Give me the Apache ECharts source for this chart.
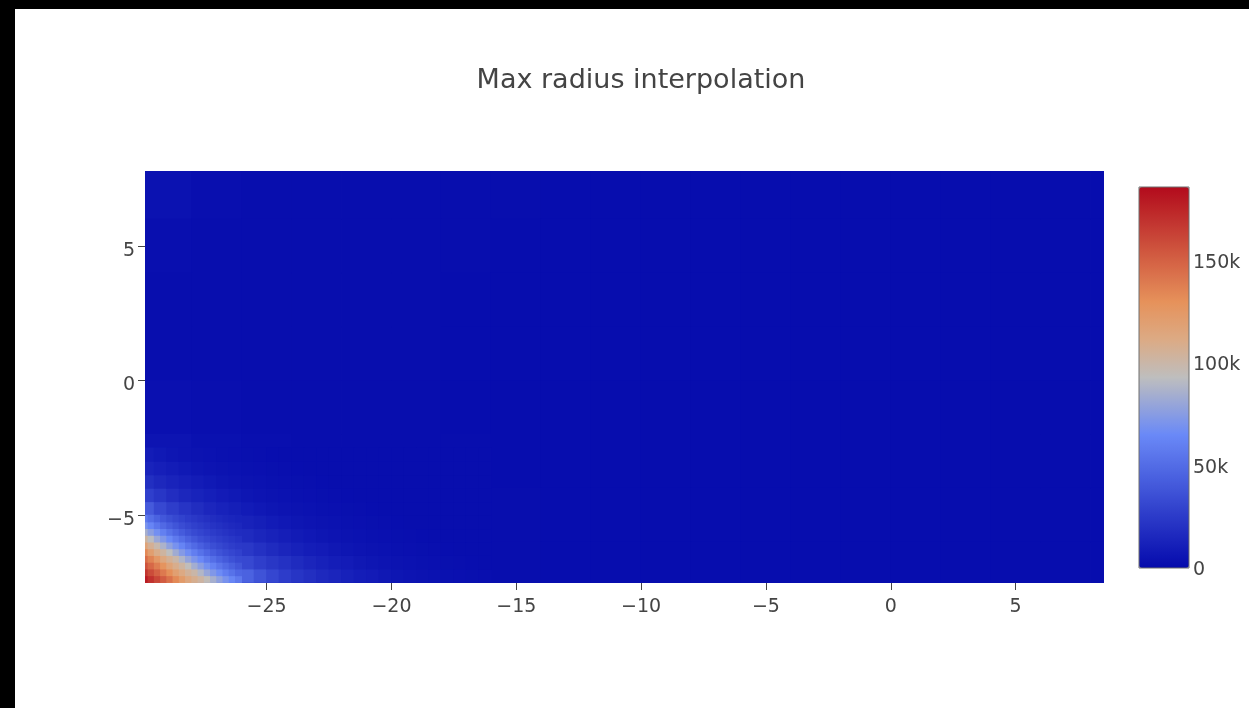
<!DOCTYPE html>
<html>
<head>
<meta charset="utf-8">
<script src="https://cdn.jsdelivr.net/npm/echarts@6/dist/echarts.min.js"></script>
<style>
    html, body {
        margin: 0;
        padding: 0;
        width: 1249px;
        height: 708px;
        background: #000;
        overflow: hidden;
    }
    #chart {
        position: absolute;
        left: 15px;
        top: 9px;
        width: 1234px;
        height: 699px;
        background: #fff;
    }
</style>
</head>
<body>
<div id="chart"></div>
<script>
// tick labels
const xTicks = [-25, -20, -15, -10, -5, 0, 5]
const yTicks = [-5, 0, 5]
const colorTicks = [0, 50000, 100000, 150000]

// coarse cells (2 x 2 units), values in thousands, rows from top (y=7) to bottom (y=-7)
const coarseXs = [-29, -27, -25, -23, -21, -19, -17, -15, -13, -11, -9, -7, -5, -3, -1, 1, 3, 5, 7, 9]
const coarseYs = [7, 5, 3, 1, -1, -3, -5, -7]
const coarseRows = [
    [4, 2.5, 2, 2, 2, 2, 2, 2, 1.5, 1.5, 1.5, 1.5, 1.5, 1.5, 1.5, 1.5, 1.5, 1.5, 1.5, 1.5],
    [2.5, 2, 2, 2, 2, 2, 2, 1.5, 1.5, 1.5, 1.5, 1.5, 1.5, 1.5, 1.5, 1.5, 1.5, 1.5, 1.5, 1.5],
    [2, 2, 2, 2, 2, 2, 1.5, 1.5, 1.5, 1.5, 1.5, 1.5, 1.5, 1.5, 1.5, 1.5, 1.5, 1.5, 1.5, 1.5],
    [2, 2, 2, 2, 2, 2, 1.5, 1.5, 1.5, 1.5, 1.5, 1.5, 1.5, 1.5, 1.5, 1.5, 1.5, 1.5, 1.5, 1.5],
    [3, 2.5, 2, 2, 2, 2, 1.5, 1.5, 1.5, 1.5, 1.5, 1.5, 1.5, 1.5, 1.5, 1.5, 1.5, 1.5, 1.5, 1.5],
    [5, 3.5, 2.5, 2, 2, 2, 2, 1.5, 1.5, 1.5, 1.5, 1.5, 1.5, 1.5, 1.5, 1.5, 1.5, 1.5, 1.5, 1.5],
    [12, 8, 6, 4, 3, 2.5, 2, 2, 1.5, 1.5, 1.5, 1.5, 1.5, 1.5, 1.5, 1.5, 1.5, 1.5, 1.5, 1.5],
    [100, 40, 15, 8, 5, 3, 2, 2, 1.5, 1.5, 1.5, 1.5, 1.5, 1.5, 1.5, 1.5, 1.5, 1.5, 1.5, 1.5],
]

// medium cells (0.5 x 0.5 units) in the lower left corner, rows from bottom up
const midXs = [-29.75, -29.25, -28.75, -28.25, -27.75, -27.25, -26.75, -26.25, -25.75, -25.25,
    -24.75, -24.25, -23.75, -23.25, -22.75, -22.25, -21.75, -21.25, -20.75, -20.25,
    -19.75, -19.25, -18.75, -18.25, -17.75, -17.25, -16.75, -16.25]
const midYs = [-7.25, -6.75, -6.25, -5.75, -5.25, -4.75, -4.25, -3.75, -3.25, -2.75]
const midRows = [
    [171, 153, 134, 115, 102, 85, 70, 56, 45, 37, 31, 26, 22, 19, 16, 14, 12, 10, 9, 7, 6, 5, 4.4, 4, 3.6, 3.2, 2.9, 2.5],
    [148, 129, 109, 94, 75, 61, 49, 39, 32, 27, 23, 20, 17, 14, 12, 10, 9, 7, 6, 5, 4.4, 4, 3.6, 3.2, 2.9, 2.5, 2.2, 2],
    [122, 103, 82, 67, 53, 42, 33.5, 28, 24, 20, 17, 14, 12, 10, 9, 7, 6, 5, 4.4, 4, 3.6, 3.2, 2.9, 2.5, 2.2, 2, 2, 2],
    [92, 72, 57, 45, 35, 29, 24.5, 20.5, 17, 14.4, 12.3, 10.4, 8.8, 7.3, 6, 5, 4.4, 4, 3.6, 3.2, 2.9, 2.5, 2.2, 2, 2, 2, 2, 2],
    [62.5, 48, 37.6, 30.6, 25.4, 21, 17.5, 14.6, 12.4, 10.6, 8.9, 7.4, 6, 5, 4.4, 4, 3.6, 3.2, 2.9, 2.5, 2.2, 2, 2, 2, 2, 2, 2, 2],
    [41, 32, 26.3, 21.7, 17.9, 14.7, 12.6, 10.6, 8.9, 7.4, 6.1, 5, 4.4, 4, 3.6, 3.2, 2.9, 2.5, 2.2, 2, 2, 2, 2, 2, 2, 2, 2, 2],
    [27.5, 22.5, 18.3, 15, 12.7, 10.7, 9, 7.5, 6.1, 5, 4.4, 4, 3.6, 3.2, 2.9, 2.5, 2.2, 2, 2, 2, 2, 2, 2, 2, 2, 2, 2, 2],
    [18.9, 15.3, 12.9, 10.9, 9.1, 7.5, 6.1, 5, 4.4, 4, 3.6, 3.2, 2.9, 2.5, 2.2, 2, 2, 2, 2, 2, 2, 2, 2, 2, 2, 2, 2, 2],
    [13, 11, 9.1, 7.5, 6.1, 5, 4.4, 4, 3.6, 3.2, 2.9, 2.5, 2.2, 2, 2, 2, 2, 2, 2, 2, 2, 2, 2, 2, 2, 2, 2, 2],
    [9.2, 7.6, 6.1, 5, 4.4, 4, 3.6, 3.2, 2.9, 2.5, 2.2, 2, 2, 2, 2, 2, 2, 2, 2, 2, 2, 2, 2, 2, 2, 2, 2, 2],
]

// fine cells (0.25 x 0.25 units) at the hot corner, rows from bottom up
const fineXs = [-29.875, -29.625, -29.375, -29.125, -28.875, -28.625, -28.375, -28.125,
    -27.875, -27.625, -27.375, -27.125, -26.875, -26.625, -26.375, -26.125]
const fineYs = [-7.375, -7.125, -6.875, -6.625, -6.375, -6.125, -5.875, -5.625, -5.375, -5.125]
const fineRows = [
    [179, 170, 161, 152, 143, 133, 123, 114, 108, 102, 95, 85, 77, 70, 63.5, 57],
    [168, 159, 150, 140, 131, 120, 112, 105, 100, 89, 80, 72.5, 66, 59, 53, 47],
    [156, 147, 138, 128, 117, 109, 102.5, 94, 84, 76, 68.5, 61.6, 55, 49, 44, 39],
    [145, 136, 125, 114, 106, 100, 88, 79, 71, 64.8, 57, 51, 45.5, 40.6, 36, 33],
    [133.4, 121, 110, 102.5, 93, 83, 74, 67, 59.6, 53, 47, 42, 37.4, 33.7, 31, 28.4],
    [116.7, 106.6, 98.5, 87, 77.5, 69.6, 62.4, 55, 49, 43.6, 38.8, 34.6, 31.6, 29, 26.5, 24.3],
    [102.5, 92, 81, 72.5, 65, 57.6, 51, 45, 40, 35.2, 32.3, 29.5, 27, 24.7, 22.6, 20.8],
    [85.5, 76, 68, 60.3, 53, 47, 41.5, 36.7, 33, 30.2, 27.6, 25.2, 23, 21, 19.2, 17.5],
    [70.7, 63, 55.4, 48.8, 43, 38, 33.9, 30.8, 28, 25.6, 23.4, 21.3, 19.5, 17.7, 16.2, 14.8],
    [57.8, 50.9, 44.8, 39.4, 35, 31.6, 28.7, 26, 23.8, 21.7, 19.7, 18, 16.3, 14.9, 13.7, 12.7],
]

const zMax = 186000

// plotly RdBu stops, blue at the low end
const rdbuStops = [
    [0, [5, 10, 172]],
    [0.35, [106, 137, 247]],
    [0.5, [190, 190, 190]],
    [0.6, [220, 170, 132]],
    [0.7, [230, 145, 90]],
    [1, [178, 10, 28]],
]

const sampleScale = (n) => {
    const colors = []
    for (let i = 0; i < n; i++) {
        const t = i / (n - 1)
        let k = 0
        while (k < rdbuStops.length - 2 && t > rdbuStops[k + 1][0]) k++
        const [t0, c0] = rdbuStops[k]
        const [t1, c1] = rdbuStops[k + 1]
        const f = (t - t0) / (t1 - t0)
        const c = c0.map((v, j) => Math.round(v + (c1[j] - v) * f))
        colors.push(`rgb(${c[0]},${c[1]},${c[2]})`)
    }
    return colors
}

const toCells = (xs, ys, rows) => {
    const out = []
    rows.forEach((row, i) => row.forEach((v, j) => out.push([xs[j], ys[i], v * 1000])))
    return out
}

const cellRenderer = (half) => (params, api) => {
    const x = api.value(0)
    const y = api.value(1)
    const p0 = api.coord([x - half, y + half])
    const p1 = api.coord([x + half, y - half])
    return {
        type: 'rect',
        shape: {
            x: p0[0] - 0.4,
            y: p0[1] - 0.4,
            width: p1[0] - p0[0] + 0.8,
            height: p1[1] - p0[1] + 0.8,
        },
        style: { fill: api.visual('color') },
    }
}

const cellSeries = (half, z, data) => ({
    type: 'custom',
    xAxisIndex: 0,
    yAxisIndex: 0,
    clip: true,
    z,
    dimensions: ['x', 'y', 'v'],
    encode: { x: 0, y: 1 },
    renderItem: cellRenderer(half),
    data,
})

const minus = (v) => String(v).replace('-', '\u2212')
const textColor = '#444'
const fontFamily = '"DejaVu Sans", Verdana, sans-serif'

const chart = echarts.init(document.getElementById('chart'))

chart.setOption({
    animation: false,
    title: {
        text: 'Max radius interpolation',
        left: 626,
        top: 58,
        padding: 0,
        textAlign: 'center',
        textStyle: {
            color: textColor,
            fontFamily,
            fontWeight: 'normal',
            fontSize: 27,
        },
    },
    grid: [
        { left: 130, top: 162, width: 959, height: 412 },
        {
            left: 1124,
            top: 178,
            width: 50,
            height: 381,
            show: true,
            z: 10,
            borderColor: '#6f6f6f',
            borderWidth: 1,
            backgroundColor: 'transparent',
        },
    ],
    xAxis: [
        {
            type: 'value',
            gridIndex: 0,
            min: -29.87,
            max: 8.54,
            axisLine: { show: true, onZero: false, lineStyle: { color: 'rgba(0,0,0,0)' } },
            splitLine: { show: false },
            axisTick: {
                show: true,
                customValues: xTicks,
                length: 7,
                lineStyle: { color: textColor },
            },
            axisLabel: {
                customValues: xTicks,
                margin: 15,
                color: textColor,
                fontFamily,
                fontSize: 19,
                formatter: minus,
            },
        },
        { type: 'value', gridIndex: 1, show: false, min: 0, max: 1 },
    ],
    yAxis: [
        {
            type: 'value',
            gridIndex: 0,
            min: -7.52,
            max: 7.79,
            axisLine: { show: true, onZero: false, lineStyle: { color: 'rgba(0,0,0,0)' } },
            splitLine: { show: false },
            axisTick: {
                show: true,
                customValues: yTicks,
                length: 7,
                lineStyle: { color: textColor },
            },
            axisLabel: {
                customValues: yTicks,
                margin: 10,
                formatter: (v) => `{t|${minus(v)}}`,
                rich: {
                    t: {
                        color: textColor,
                        fontFamily,
                        fontSize: 19,
                        padding: [9, 0, 0, 0],
                    },
                },
            },
        },
        {
            type: 'value',
            gridIndex: 1,
            position: 'right',
            min: 0,
            max: zMax,
            axisLine: { show: false },
            axisTick: { show: false },
            splitLine: { show: false },
            axisLabel: {
                customValues: colorTicks,
                margin: 4,
                formatter: (v) => `{t|${v === 0 ? '0' : v / 1000 + 'k'}}`,
                rich: {
                    t: {
                        color: textColor,
                        fontFamily,
                        fontSize: 19,
                        padding: [4, 0, 0, 0],
                    },
                },
            },
        },
    ],
    visualMap: {
        type: 'continuous',
        min: 0,
        max: zMax,
        dimension: 2,
        seriesIndex: [0, 1, 2],
        calculable: false,
        left: 1124,
        top: 178,
        itemWidth: 50,
        itemHeight: 381,
        padding: 0,
        text: null,
        inRange: { color: sampleScale(21) },
    },
    series: [
        cellSeries(1, 1, toCells(coarseXs, coarseYs, coarseRows)),
        cellSeries(0.25, 2, toCells(midXs, midYs, midRows)),
        cellSeries(0.125, 3, toCells(fineXs, fineYs, fineRows)),
    ],
})
</script>
</body>
</html>
